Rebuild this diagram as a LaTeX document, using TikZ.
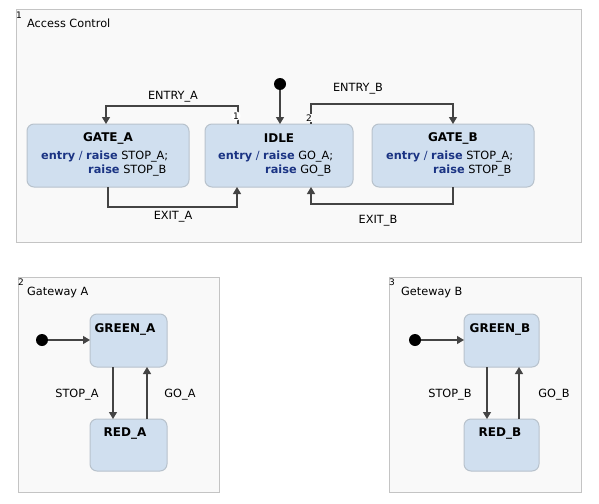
\documentclass[tikz,border=0pt]{standalone}
\usepackage{fontspec}
\setmainfont{DejaVu Sans}
\usetikzlibrary{arrows.meta}
\definecolor{contfill}{HTML}{F9F9F9}
\definecolor{contline}{HTML}{C4C4C4}
\definecolor{statefill}{HTML}{D0DFEF}
\definecolor{stateline}{HTML}{B8C2CC}
\definecolor{kw}{HTML}{1A3383}
\definecolor{edge}{HTML}{444444}
\newcommand{\kwd}[1]{\textbf{\textcolor{kw}{#1}}}
\tikzset{
  container/.style={draw=contline, fill=contfill, line width=1pt},
  statebox/.style={draw=stateline, fill=statefill, line width=1pt, rounded corners=7pt},
  tr/.style={draw=edge, line width=1.2pt, -{Triangle[length=7pt,width=8pt]}},
  lbl/.style={font=\fontsize{11.3}{13}\selectfont, inner sep=0pt},
  idx/.style={font=\fontsize{9}{10}\selectfont, inner sep=0.5pt},
  ttl/.style={font=\bfseries\fontsize{12}{14}\selectfont, inner sep=0pt},
  initdot/.style={circle, fill=black, minimum size=12pt, inner sep=0pt},
}
\begin{document}
\begin{tikzpicture}[x=1pt,y=-1pt]
\useasboundingbox (0,0) rectangle (599,503);
\fill[white] (0,0) rectangle (599,503);
% containers
\draw[container] (16,10) rectangle (581,242);
\node[idx] (n1) at (19,15) {1};
\node[lbl, anchor=west] (acc) at (27,23) {Access Control};

\draw[container] (18,277) rectangle (219,492);
\node[idx] (n2) at (21,282) {2};
\node[lbl, anchor=west] (gwa) at (27,292) {Gateway A};

\draw[container] (389,277) rectangle (581,492);
\node[idx] (n3) at (392,282) {3};
\node[lbl, anchor=west] (gwb) at (401,292) {Geteway B};

% Access control states
\path[statebox] (27,124) rectangle (189,187);
\node[ttl] (gateAt) at (108,138) {GATE\_A};
\node[lbl, anchor=base west] (gateAl1) at (41,159) {\kwd{entry} \textcolor{kw}{/} \kwd{raise} STOP\_A;};
\node[lbl, anchor=base west] (gateAl2) at (88,173) {\kwd{raise} STOP\_B};

\path[statebox] (205,124) rectangle (353,187);
\node[ttl] (idlet) at (279,138) {IDLE};
\node[lbl, anchor=base west] (idlel1) at (218,159) {\kwd{entry} \textcolor{kw}{/} \kwd{raise} GO\_A;};
\node[lbl, anchor=base west] (idlel2) at (265,173) {\kwd{raise} GO\_B};

\path[statebox] (372,124) rectangle (534,187);
\node[ttl] (gateBt) at (453,138) {GATE\_B};
\node[lbl, anchor=base west] (gateBl1) at (386,159) {\kwd{entry} \textcolor{kw}{/} \kwd{raise} STOP\_A;};
\node[lbl, anchor=base west] (gateBl2) at (433,173) {\kwd{raise} STOP\_B};

% coordinates on state borders
\coordinate (idleTopA) at (238,124);
\coordinate (idleTopB) at (311,124);
\coordinate (idleTopI) at (280,124);
\coordinate (idleBotA) at (237,187);
\coordinate (idleBotB) at (311,187);
\coordinate (gateATop) at (106,124);
\coordinate (gateABot) at (108,187);
\coordinate (gateBTop) at (453,124);
\coordinate (gateBBot) at (453,187);

\node[initdot] (initAC) at (280,84) {};
\draw[tr] (initAC) -- (idleTopI);

\draw[tr] (idleTopA) -- (238,106) -- (106,106) -- (gateATop);
\node[lbl] (entryA) at (173,97) {ENTRY\_A};
\node[idx, fill=white, circle, inner sep=0.3pt] (p1) at (236,116) {1};

\draw[tr] (idleTopB) -- (311,104) -- (453,104) -- (gateBTop);
\node[lbl] (entryB) at (358,89) {ENTRY\_B};
\node[idx, fill=contfill, inner sep=0.3pt] (p2) at (309,118) {2};

\draw[tr] (gateABot) -- (108,207) -- (237,207) -- (idleBotA);
\node[lbl] (exitA) at (173,217) {EXIT\_A};

\draw[tr] (gateBBot) -- (453,204) -- (311,204) -- (idleBotB);
\node[lbl] (exitB) at (378,221) {EXIT\_B};

% Gateway A
\path[statebox] (90,314) rectangle (167,367);
\node[ttl] (greenA) at (125,329) {GREEN\_A};
\path[statebox] (90,419) rectangle (167,471);
\node[ttl] (redA) at (125,434) {RED\_A};
\node[initdot] (initA) at (42,340) {};
\draw[tr] (initA) -- (90,340);
\draw[tr] (113,367) -- (113,419);
\draw[tr] (147,419) -- (147,367);
\node[lbl] (stopA) at (77,395) {STOP\_A};
\node[lbl] (goA) at (180,395) {GO\_A};

% Gateway B
\path[statebox] (464,314) rectangle (539,367);
\node[ttl] (greenB) at (500,329) {GREEN\_B};
\path[statebox] (464,419) rectangle (539,471);
\node[ttl] (redB) at (500,434) {RED\_B};
\node[initdot] (initB) at (415,340) {};
\draw[tr] (initB) -- (464,340);
\draw[tr] (487,367) -- (487,419);
\draw[tr] (519,419) -- (519,367);
\node[lbl] (stopB) at (450,395) {STOP\_B};
\node[lbl] (goB) at (554,395) {GO\_B};
\end{tikzpicture}
\end{document}
